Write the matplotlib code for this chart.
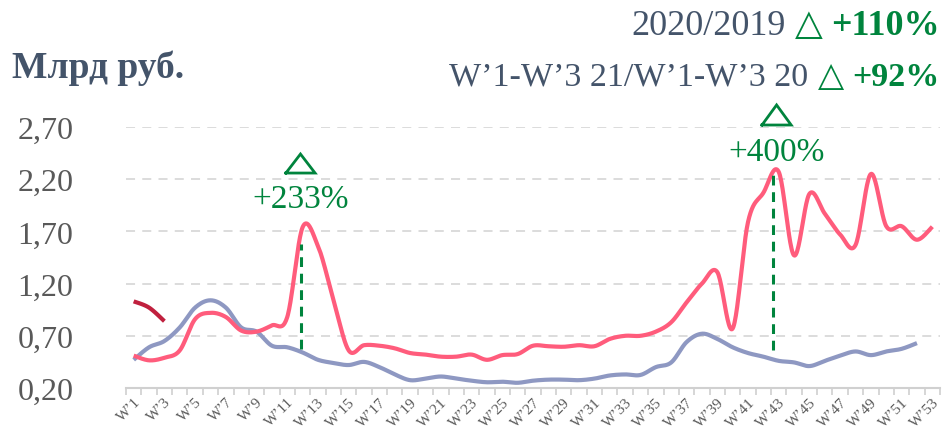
import numpy as np
import matplotlib
matplotlib.use("Agg")
import matplotlib.pyplot as plt

# weeks W'1 .. W'53
weeks = ["W\u2019" + str(i) for i in range(1, 54)]

# 2020 (pink), 53 weeks
y2020 = [0.51, 0.465, 0.49, 0.56, 0.86, 0.92, 0.88, 0.75, 0.74, 0.80,
         0.88, 1.74, 1.56, 1.05, 0.56, 0.61, 0.605, 0.58, 0.535, 0.52,
         0.50, 0.50, 0.52, 0.47, 0.515, 0.525, 0.605, 0.60, 0.595, 0.61,
         0.60, 0.67, 0.70, 0.70, 0.74, 0.83, 1.02, 1.20, 1.31, 0.77,
         1.79, 2.07, 2.27, 1.47, 2.06, 1.87, 1.67, 1.57, 2.25, 1.75,
         1.75, 1.62, 1.745]

# 2019 (blue-grey), 52 weeks
y2019 = [0.47, 0.59, 0.65, 0.78, 0.97, 1.04, 0.97, 0.78, 0.74, 0.605,
         0.59, 0.54, 0.47, 0.44, 0.42, 0.45, 0.40, 0.33, 0.275, 0.29,
         0.31, 0.29, 0.27, 0.255, 0.26, 0.25, 0.27, 0.28, 0.28, 0.275,
         0.29, 0.32, 0.33, 0.325, 0.40, 0.445, 0.64, 0.72, 0.67, 0.59,
         0.535, 0.50, 0.46, 0.445, 0.41, 0.46, 0.51, 0.55, 0.515, 0.55,
         0.575, 0.63]

# 2021 (dark red), first 3 weeks
y2021 = [1.03, 0.97, 0.84]

yticks = [0.20, 0.70, 1.20, 1.70, 2.20, 2.70]

PINK = "#FF5C7C"
BLUE = "#8E98C2"
RED = "#C0203E"
GREEN = "#00843D"
SLATE = "#44546A"
GREY = "#595959"


def smooth(y, n=24):
    # Excel-style smoothed line (Bezier through the points)
    p = np.column_stack([np.arange(len(y)), np.array(y, dtype=float)])
    out = []
    for i in range(len(p) - 1):
        p0 = p[i - 1] if i > 0 else p[i]
        p1 = p[i]
        p2 = p[i + 1]
        p3 = p[i + 2] if i + 2 < len(p) else p[i + 1]
        c1 = p1 + (p2 - p0) / 6.0
        c2 = p2 - (p3 - p1) / 6.0
        t = np.linspace(0, 1, n, endpoint=False)[:, None]
        seg = ((1 - t) ** 3) * p1 + 3 * ((1 - t) ** 2) * t * c1 + 3 * (1 - t) * t ** 2 * c2 + t ** 3 * p2
        out.append(seg)
    out.append(p[-1][None, :])
    out = np.vstack(out)
    return out[:, 0], out[:, 1]


plt.rcParams['font.family'] = ['Liberation Serif', 'DejaVu Sans']

W, H = 946, 431
fig = plt.figure(figsize=(W / 100, H / 100), dpi=100)
ax = fig.add_axes([126 / W, (H - 389) / H, (940 - 126) / W, (389 - 128) / H])

for y, c in [(y2019, BLUE), (y2020, PINK), (y2021, RED)]:
    sx, sy = smooth(y)
    ax.plot(sx, sy, color=c, lw=3.0, solid_capstyle='butt', zorder=3)

ax.set_xlim(-0.5, 52.5)
ax.set_ylim(0.2, 2.7)

ax.set_yticks(yticks)
ax.set_yticklabels([("%.2f" % v).replace(".", ",") for v in yticks],
                   fontsize=23, color=GREY)
ax.tick_params(axis='y', length=0, pad=78)
for lab in ax.get_yticklabels():
    lab.set_horizontalalignment('left')

for v in yticks[1:]:
    ax.axhline(v, color="#D9D9D9", lw=1.3, ls=(0, (5, 4)), zorder=1)

ax.set_xticks(np.arange(0, 53, 2))
ax.set_xticklabels(weeks[::2], rotation=45, ha='right', rotation_mode='anchor',
                   fontsize=11, color=GREY)
ax.set_xticks(np.arange(-0.5, 53, 1), minor=True)
ax.tick_params(axis='x', which='major', length=0, pad=5)
ax.tick_params(axis='x', which='minor', length=5, width=1.2, color="#D0D0D0", direction='out')

for s in ['top', 'right', 'left']:
    ax.spines[s].set_visible(False)
ax.spines['bottom'].set_color("#D0D0D0")
ax.spines['bottom'].set_linewidth(1.5)

# dashed markers of peaks
ax.plot([10.87, 10.87], [0.57, 1.58], color=GREEN, lw=2.2, ls=(0, (3.2, 2.2)), zorder=4)
ax.plot([41.64, 41.64], [0.56, 2.25], color=GREEN, lw=2.2, ls=(0, (3.2, 2.2)), zorder=4)

ax.text(10.86, 1.93, "+233%", color=GREEN, fontsize=24, ha='center', va='baseline')
ax.text(41.86, 2.385, "+400%", color=GREEN, fontsize=24, ha='center', va='baseline')

# outlined triangles above the percentages
for cx, yb, yt in [(10.86, 2.259, 2.441), (41.86, 2.719, 2.911)]:
    ax.plot([cx - 0.95, cx + 0.95, cx, cx - 0.95], [yb, yb, yt, yb], color=GREEN,
            lw=2, solid_joinstyle='miter', clip_on=False, zorder=5)

fig.text(12 / W, (H - 78) / H, "Млрд руб.", fontsize=27, fontweight='bold',
         color=SLATE, ha='left', va='baseline')

renderer = fig.canvas.get_renderer()


def right_line(parts, xr, yb, size):
    x = xr
    for txt, col, wt, fam in reversed(parts):
        t = fig.text(x / W, (H - yb) / H, txt, fontsize=size, color=col, fontweight=wt,
                     ha='right', va='baseline', family=fam)
        bb = t.get_window_extent(renderer)
        x = bb.x0 - 9


right_line([("2020/2019", SLATE, 'normal', 'Liberation Serif'),
            ("\u25b3", GREEN, 'normal', 'DejaVu Sans'),
            ("+110%", GREEN, 'bold', 'Liberation Serif')], 940, 35, 26)
right_line([("W\u20191-W\u20193 21/W\u20191-W\u20193 20", SLATE, 'normal', 'Liberation Serif'),
            ("\u25b3", GREEN, 'normal', 'DejaVu Sans'),
            ("+92%", GREEN, 'bold', 'Liberation Serif')], 940, 86, 24.5)

fig.savefig("out.png", dpi=100)
